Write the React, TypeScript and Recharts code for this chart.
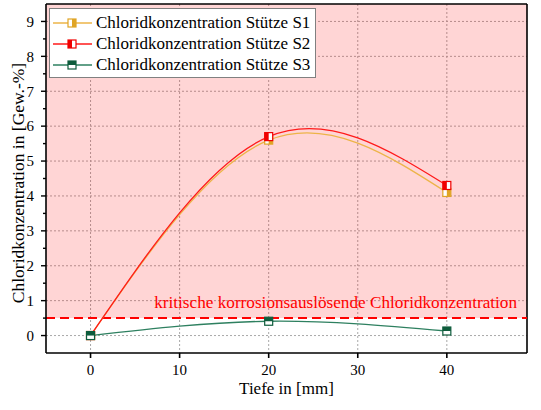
import {
  LineChart, Line, XAxis, YAxis, CartesianGrid, ReferenceArea, ReferenceLine, Legend, Label,
} from "recharts"

const depths = [0, 20, 40]
const s1 = [0, 5.6, 4.1]
const s2 = [0, 5.7, 4.3]
const s3 = [0, 0.41, 0.13]
const xTicks = [0, 10, 20, 30, 40]
const yTicks = [0, 1, 2, 3, 4, 5, 6, 7, 8, 9]
const yMinorTicks = [0.5, 1.5, 2.5, 3.5, 4.5, 5.5, 6.5, 7.5, 8.5]
const critical = 0.5
const criticalLabel = "kritische korrosionsauslösende Chloridkonzentration"

const data = depths.map((d, i) => ({ depth: d, s1: s1[i], s2: s2[i], s3: s3[i] }))

// drawn in this order, so S3 ends up on top
const series = [
  { key: "s1", name: "Chloridkonzentration Stütze S1", line: "#EDB448", mark: "#E0A526", half: "right" },
  { key: "s2", name: "Chloridkonzentration Stütze S2", line: "#FF1A1A", mark: "#F00000", half: "left" },
  { key: "s3", name: "Chloridkonzentration Stütze S3", line: "#2E8060", mark: "#0E5C3C", half: "top" },
]

const font = "'Liberation Serif', 'Times New Roman', Times, serif"
const TICK = 5
const TICK_MINOR = 3
const TICK_MARGIN = 7

function HalfSquare({ cx, cy, color, half, size = 8 }: any) {
  if (cx == null || cy == null) return null
  const h = size / 2
  let r = { x: cx, y: cy - h, w: h, hh: size }
  if (half === "left") r = { x: cx - h, y: cy - h, w: h, hh: size }
  if (half === "top") r = { x: cx - h, y: cy - h, w: size, hh: h }
  return (
    <g>
      <rect x={cx - h} y={cy - h} width={size} height={size} fill="#fff" stroke={color} strokeWidth={1.2} />
      <rect x={r.x} y={r.y} width={r.w} height={r.hh} fill={color} />
    </g>
  )
}

function YTick({ x, y, payload }: any) {
  const axisX = x + TICK + TICK_MARGIN
  const major = Number.isInteger(payload.value)
  return (
    <g>
      <line x1={axisX - (major ? TICK : TICK_MINOR)} x2={axisX} y1={y} y2={y} stroke="#000" strokeWidth={1.4} />
      {major && (
        <text x={x} y={y} dy="0.35em" textAnchor="end" fontSize={15} fontFamily={font} fill="#000">
          {payload.value}
        </text>
      )}
    </g>
  )
}

function LegendBox() {
  return (
    <div
      style={{
        background: "#fff",
        border: "1px solid #808080",
        width: 265,
        padding: "3px 0 2px 0",
        fontFamily: font,
        fontSize: 17,
        color: "#000",
      }}
    >
      {series.map((s) => (
        <div key={s.key} style={{ display: "flex", alignItems: "center", height: 21 }}>
          <svg width={46} height={14} style={{ flexShrink: 0 }}>
            <line x1={3} y1={7} x2={42} y2={7} stroke={s.line} strokeWidth={1.3} />
            <HalfSquare cx={22} cy={7} color={s.mark} half={s.half} />
          </svg>
          <span style={{ whiteSpace: "nowrap" }}>{s.name}</span>
        </div>
      ))}
    </div>
  )
}

export default function App() {
  return (
    <div style={{ width: 541, height: 410, fontFamily: font }}>
      <style>{`body{margin:0}`}</style>
      <LineChart
        width={541}
        height={410}
        data={data}
        margin={{ top: 4, right: 14, left: 0, bottom: 0 }}
        style={{ fontFamily: font }}
      >
        <ReferenceArea x1={-5} x2={49} y1={critical} y2={9.5} fill="#FF0000" fillOpacity={0.165} stroke="none" />
        <CartesianGrid stroke="#a8a8a8" strokeDasharray="2 2" horizontalValues={yTicks} verticalValues={xTicks} />
        <XAxis
          dataKey="depth"
          type="number"
          domain={[-5, 49]}
          ticks={xTicks}
          height={57}
          stroke="#000"
          strokeWidth={1.6}
          tickSize={TICK}
          tickMargin={6}
          tick={{ fill: "#000", fontSize: 15, fontFamily: font }}
        >
          <Label
            content={({ viewBox }: any) => (
              <text
                x={viewBox.x + viewBox.width / 2}
                y={viewBox.y + 41}
                textAnchor="middle"
                fontSize={17}
                fontFamily={font}
                fill="#000"
              >
                Tiefe in [mm]
              </text>
            )}
          />
        </XAxis>
        <YAxis
          type="number"
          domain={[-0.5, 9.5]}
          ticks={[...yTicks, ...yMinorTicks].sort((a, b) => a - b)}
          interval={0}
          width={46}
          stroke="#000"
          strokeWidth={1.6}
          tickSize={TICK}
          tickMargin={TICK_MARGIN}
          tickLine={false}
          tick={<YTick />}
        >
          <Label
            content={() => {
              const x = 24
              const y = 183
              return (
                <text
                  x={x}
                  y={y}
                  transform={`rotate(-90 ${x} ${y})`}
                  textAnchor="middle"
                  fontSize={17.5}
                  fontFamily={font}
                  fill="#000"
                >
                  Chloridkonzentration in [Gew.-%]
                </text>
              )
            }}
          />
        </YAxis>
        <ReferenceLine y={9.5} stroke="#000" strokeWidth={1.6} />
        <ReferenceLine x={49} stroke="#000" strokeWidth={1.6} />
        <ReferenceLine y={critical} stroke="#FF0000" strokeWidth={2} strokeDasharray="9 5">
          <Label
            content={({ viewBox }: any) => (
              <text
                x={viewBox.x + viewBox.width - 10}
                y={viewBox.y - 10}
                textAnchor="end"
                fontSize={17.2}
                fontFamily={font}
                fill="#FF0000"
              >
                {criticalLabel}
              </text>
            )}
          />
        </ReferenceLine>
        {series.map((s) => (
          <Line
            key={s.key}
            dataKey={s.key}
            name={s.name}
            type="natural"
            stroke={s.line}
            strokeWidth={1.3}
            isAnimationActive={false}
            dot={(p: any) => (
              <HalfSquare key={`${s.key}-${p.index}`} cx={p.cx} cy={p.cy} color={s.mark} half={s.half} />
            )}
            activeDot={false}
          />
        ))}
        <Legend
          layout="vertical"
          align="center"
          verticalAlign="middle"
          wrapperStyle={{ top: 8, left: 49, width: "auto" }}
          content={() => <LegendBox />}
        />
      </LineChart>
    </div>
  )
}
